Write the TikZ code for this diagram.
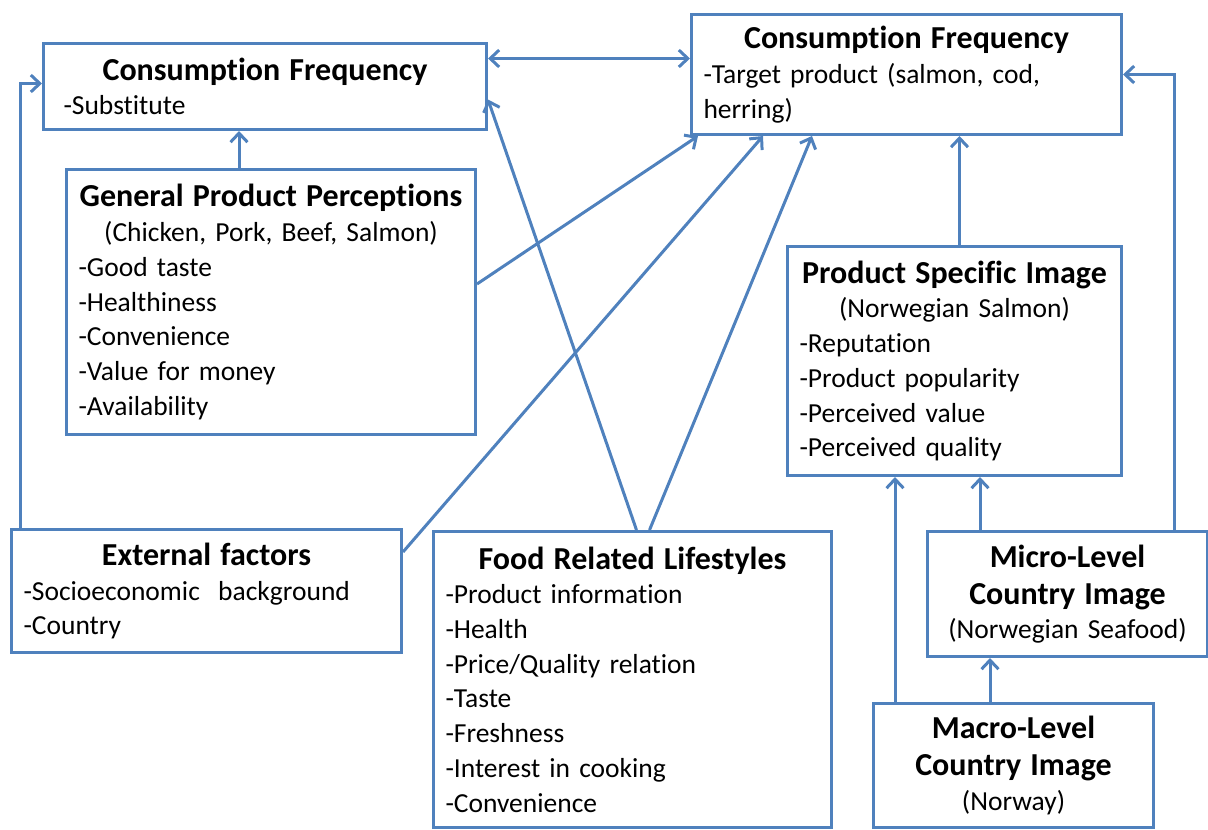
\documentclass[tikz,border=0pt]{standalone}
\usepackage{fontspec}
\setmainfont{Carlito}[Ligatures=NoCommon]
\usetikzlibrary{arrows.meta}

\definecolor{boxblue}{RGB}{79,129,189}

% centred bold heading inside a box
\newcommand{\boxhead}[1]{{\centering\fontsize{32}{37}\selectfont\bfseries #1\par}}
\newcommand{\boxsub}[1]{{\centering #1\par}}

\begin{document}
\begin{tikzpicture}[x=1pt, y=-1pt, > = {Straight Barb[length=9pt, width=17pt]},
	box/.style={draw=boxblue, line width=3pt, anchor=north west, align=left,
		inner xsep=12pt, inner ysep=0pt, font=\fontsize{27.5}{34.7}\selectfont},
	arr/.style={draw=boxblue, line width=3pt, ->}]

	\useasboundingbox (0,0) rectangle (1208,830);

	% Consumption frequency boxes
	
	\node (cfsub) [box, text width=419pt, minimum height=86pt] at (42,42)
		{\boxhead{Consumption Frequency}\hspace*{8pt}-Substitute};
	\node (cftarget) [box, text width=406pt, minimum height=120pt] at (690,13)
		{\boxhead{Consumption Frequency}-Target product (salmon, cod,\\herring)};

	% Perceptions and image boxes
	
	\node (general) [box, text width=385pt, minimum height=265pt] at (65,168)
		{\boxhead{General Product Perceptions}\boxsub{(Chicken, Pork, Beef, Salmon)}%
		-Good taste\\-Healthiness\\-Convenience\\-Value for money\\-Availability};
	\node (specific) [box, text width=310pt, minimum height=229pt] at (786,245)
		{\boxhead{Product Specific Image}\boxsub{(Norwegian Salmon)}%
		-Reputation\\-Product popularity\\-Perceived value\\-Perceived quality};

	% Lower row
	
	\node (external) [box, text width=366pt, minimum height=123pt] at (10,528)
		{\boxhead{External factors}-Socioeconomic\ \ background\\-Country};
	\node (lifestyle) [box, text width=374pt, minimum height=296pt] at (432,530)
		{\boxhead{Food Related Lifestyles}%
		-Product information\\-Health\\-Price/Quality relation\\-Taste\\-Freshness\\%
		-Interest in cooking\\-Convenience};
	\node (micro) [box, text width=256pt, minimum height=125pt] at (926,530)
		{\boxhead{Micro-Level\\Country Image}\boxsub{(Norwegian Seafood)}};
	\node (macro) [box, text width=256pt, minimum height=124pt] at (872,702)
		{\boxhead{Macro-Level\\Country Image}\boxsub{(Norway)}};

	% Connectors
	
	\draw [arr, <->] ([yshift=28pt]cfsub.east) -- ([yshift=28pt]cfsub.east -| cftarget.west);
	\draw [arr] ([xshift=-32pt]general.north) -- ([xshift=-32pt]general.north |- cfsub.south);
	\draw [arr] ([xshift=10pt]external.north west) |- ([yshift=3pt]cfsub.west);
	\draw [arr] ([yshift=18pt]general.east) -- ([xshift=8pt]cftarget.south west);
	\draw [arr] ([yshift=39pt]external.east) -- ([xshift=73pt]cftarget.south west);
	\draw [arr] ([xshift=4pt]lifestyle.north) -- ([yshift=-13pt]cfsub.east);
	\draw [arr] ([xshift=17pt]lifestyle.north) -- ([xshift=122pt]cftarget.south west);
	\draw [arr] ([xshift=5pt]specific.north) -- ([xshift=5pt]specific.north |- cftarget.south);
	\draw [arr] ([xshift=107pt]micro.north) |- (cftarget.east);
	\draw [arr] ([xshift=54pt]micro.north west) -- ([xshift=54pt]micro.north west |- specific.south);
	\draw [arr] ([xshift=23pt]macro.north west) -- ([xshift=23pt]macro.north west |- specific.south);
	\draw [arr] ([xshift=118pt]macro.north west) -- ([xshift=118pt]macro.north west |- micro.south);

\end{tikzpicture}
\end{document}
